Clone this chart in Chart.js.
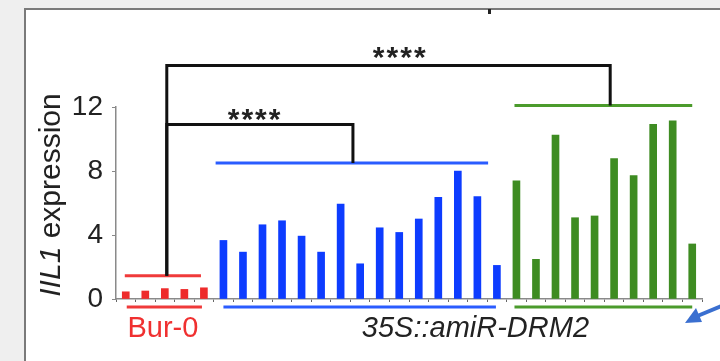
<!DOCTYPE html>
<html>
<head>
<meta charset="utf-8">
<script src="https://cdn.jsdelivr.net/npm/chart.js@4.4.0/dist/chart.umd.min.js"></script>
<style>
  body { margin: 0; background: #efefef; }
  #frame { position: absolute; left: 24px; top: 8px; width: 720px; height: 400px; border: 2px solid #7a7a7a; background: #fff; }
  #wrap { position: absolute; left: 0; top: 0; width: 720px; height: 361px; }
</style>
</head>
<body>
<div id="frame"></div>
<div id="wrap"><canvas id="chart" width="720" height="361"></canvas></div>
<script>
// IIL1 expression per line
var burValues = [0.45, 0.5, 0.65, 0.6, 0.7];
var blueValues = [3.66, 2.93, 4.64, 4.89, 3.93, 2.93, 5.93, 2.2, 4.45, 4.16, 5.0, 6.36, 8.0, 6.4, 2.1];
var greenValues = [7.38, 2.48, 10.25, 5.08, 5.19, 8.77, 7.71, 10.92, 11.14, 3.44];
var yTicks = [0, 4, 8, 12];
var groupNames = ['Bur-0', '35S::amiR-DRM2'];

var RED = '#ee2b2b', BLUE = '#0d3cff', GREEN = '#3e8c22';

var labels = [];
var colors = [];
burValues.forEach(function(v, i) { labels.push('Bur-0 ' + (i + 1)); colors.push(RED); });
blueValues.forEach(function(v, i) { labels.push('amiR-DRM2 A' + (i + 1)); colors.push(BLUE); });
greenValues.forEach(function(v, i) { labels.push('amiR-DRM2 B' + (i + 1)); colors.push(GREEN); });
var allValues = burValues.concat(blueValues, greenValues);

// group bars (above) and underlines, in category index units
var groupLines = [
  { from: -0.05, to: 3.85, value: 1.45, color: '#f03a3a' },
  { from: 4.6, to: 18.55, value: 8.5, color: '#2a5cff' },
  { from: 19.9, to: 29.0, value: 12.1, color: '#4b9b2c' }
];
var underLines = [
  { from: 0.05, to: 3.9, color: '#f03a3a' },
  { from: 5.0, to: 18.95, color: '#2a5cff' },
  { from: 19.9, to: 29.0, color: '#4b9b2c' }
];
var brackets = [
  { left: 2.1, right: 24.8, top: 14.6, leftEnd: 1.45, rightEnd: 12.1, starX: 14.05, starY: 15.4 },
  { left: 2.1, right: 11.63, top: 10.9, leftEnd: 1.45, rightEnd: 8.5, starX: 6.62, starY: 11.5 }
];

var extras = {
  id: 'extras',
  afterDraw: function(chart) {
    var ctx = chart.ctx, x = chart.scales.x, y = chart.scales.y;
    ctx.save();
    ctx.lineCap = 'butt';
    groupLines.forEach(function(g) {
      ctx.strokeStyle = g.color; ctx.lineWidth = 3;
      ctx.beginPath();
      ctx.moveTo(x.getPixelForValue(g.from), y.getPixelForValue(g.value));
      ctx.lineTo(x.getPixelForValue(g.to), y.getPixelForValue(g.value));
      ctx.stroke();
    });
    var under = y.bottom + 8;
    underLines.forEach(function(g) {
      ctx.strokeStyle = g.color; ctx.lineWidth = 3;
      ctx.beginPath();
      ctx.moveTo(x.getPixelForValue(g.from), under);
      ctx.lineTo(x.getPixelForValue(g.to), under);
      ctx.stroke();
    });
    brackets.forEach(function(b) {
      ctx.strokeStyle = '#111'; ctx.lineWidth = 3; ctx.lineJoin = 'miter';
      ctx.beginPath();
      ctx.moveTo(x.getPixelForValue(b.left), y.getPixelForValue(b.leftEnd));
      ctx.lineTo(x.getPixelForValue(b.left), y.getPixelForValue(b.top));
      ctx.lineTo(x.getPixelForValue(b.right), y.getPixelForValue(b.top));
      ctx.lineTo(x.getPixelForValue(b.right), y.getPixelForValue(b.rightEnd));
      ctx.stroke();
      ctx.fillStyle = '#222';
      ctx.font = 'bold 30px "Liberation Sans"';
      ctx.letterSpacing = '2px';
      ctx.textAlign = 'center'; ctx.textBaseline = 'middle';
      ctx.fillText('****', x.getPixelForValue(b.starX), y.getPixelForValue(b.starY) + 6);
    });
    ctx.letterSpacing = '0px';

    // group names under the axis
    ctx.textAlign = 'center'; ctx.textBaseline = 'middle';
    ctx.fillStyle = '#f03030';
    ctx.font = '29px "Liberation Sans"';
    ctx.fillText(groupNames[0], x.getPixelForValue(1.9), 329);
    ctx.fillStyle = '#222';
    ctx.font = 'italic 29px "Liberation Sans"';
    ctx.fillText(groupNames[1], x.getPixelForValue(17.9), 329);

    // y axis title: italic gene name + plain word
    ctx.save();
    ctx.translate(52, 195);
    ctx.rotate(-Math.PI / 2);
    ctx.textBaseline = 'middle'; ctx.textAlign = 'left';
    ctx.font = 'italic 30px "Liberation Sans"';
    var w1 = ctx.measureText('IIL1').width;
    ctx.font = '30px "Liberation Sans"';
    var w2 = ctx.measureText(' expression').width;
    var start = -(w1 + w2) / 2;
    ctx.fillStyle = '#222';
    ctx.font = 'italic 30px "Liberation Sans"';
    ctx.fillText('IIL1', start, 0);
    ctx.font = '30px "Liberation Sans"';
    ctx.fillText(' expression', start + w1, 0);
    ctx.restore();

    // small mark on top border
    ctx.fillStyle = '#222';
    ctx.fillRect(488, 9, 3, 5);

    // pointer arrow bottom right
    ctx.strokeStyle = '#3a6fd0'; ctx.fillStyle = '#3a6fd0'; ctx.lineWidth = 4;
    ctx.beginPath(); ctx.moveTo(724, 305); ctx.lineTo(695, 317); ctx.stroke();
    ctx.beginPath(); ctx.moveTo(685, 323); ctx.lineTo(696, 308); ctx.lineTo(702, 322); ctx.closePath(); ctx.fill();
    ctx.restore();
  }
};

new Chart(document.getElementById('chart'), {
  type: 'bar',
  data: {
    labels: labels,
    datasets: [{
      data: allValues,
      backgroundColor: colors,
      barThickness: 7
    }]
  },
  options: {
    responsive: false,
    animation: false,
    layout: { padding: { top: 107, right: 18, left: 0, bottom: 0 } },
    plugins: { legend: { display: false }, tooltip: { enabled: false } },
    scales: {
      x: {
        afterFit: function(s) { s.height = 62; },
        border: { color: '#8a8a8a', width: 1.5 },
        grid: { drawOnChartArea: false, tickLength: 3, color: '#666', offset: true },
        ticks: { callback: function() { return ''; } }
      },
      y: {
        min: 0, max: 12,
        afterFit: function(s) { s.width = 116; },
        afterBuildTicks: function(s) {
          s.ticks = [0, 2, 4, 6, 8, 10, 12].map(function(v) { return { value: v }; });
        },
        border: { color: '#8a8a8a', width: 1.5 },
        grid: { drawOnChartArea: false, tickLength: 4, color: '#888' },
        ticks: {
          padding: 9,
          color: '#222',
          font: { family: 'Liberation Sans', size: 28 },
          callback: function(v) { return yTicks.indexOf(v) >= 0 ? String(v) : ''; }
        }
      }
    }
  },
  plugins: [extras]
});
</script>
</body>
</html>
